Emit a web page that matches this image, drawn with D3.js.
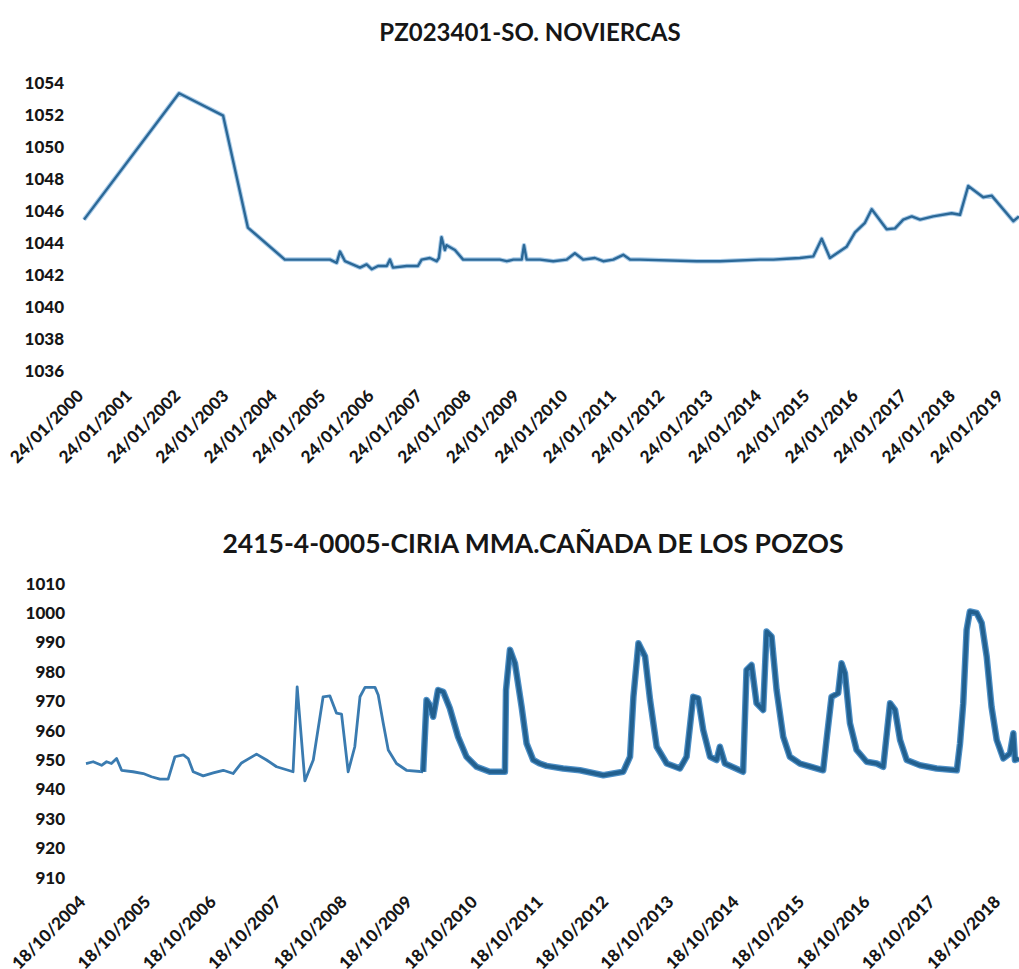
<!DOCTYPE html>
<html>
<head>
<meta charset="utf-8">
<script src="https://cdn.jsdelivr.net/npm/d3@7"></script>
<style>
  body { margin: 0; background: #fff; }
  text { font-family: Lato, "Open Sans", sans-serif; fill: #161616; }
  .tick text { font-weight: 900; font-size: 17px; }
  .title { font-weight: 700; text-anchor: middle; }
</style>
</head>
<body>
<div id="chart"></div>
<script>
/* DATA */

// PZ023401-SO. NOVIERCAS
const noviercasDates = ["2000-01-24", "2002-01-10", "2002-12-08", "2003-06-13", "2004-03-18", "2004-09-24",
	"2005-02-22", "2005-04-13", "2005-05-08", "2005-06-15", "2005-10-06", "2005-11-25", "2006-01-02",
	"2006-02-19", "2006-04-26", "2006-05-20", "2006-06-12", "2006-09-23", "2006-12-17", "2007-01-14",
	"2007-03-17", "2007-05-07", "2007-05-24", "2007-06-13", "2007-07-08", "2007-07-21", "2007-09-22",
	"2007-11-23", "2008-02-07", "2008-05-18", "2008-08-27", "2008-10-17", "2008-12-05", "2009-02-07",
	"2009-02-24", "2009-03-16", "2009-06-25", "2009-10-03", "2010-01-12", "2010-03-15", "2010-05-17",
	"2010-08-13", "2010-10-15", "2010-12-29", "2011-03-15", "2011-05-05", "2011-07-19", "2012-09-19",
	"2013-03-14", "2014-01-09", "2014-04-20", "2014-07-30", "2014-11-06", "2015-02-15", "2015-04-20",
	"2015-06-21", "2015-10-24", "2015-12-27", "2016-03-11", "2016-05-01", "2016-08-22", "2016-10-24",
	"2016-12-25", "2017-02-27", "2017-05-01", "2017-08-08", "2017-12-25", "2018-02-26", "2018-04-29",
	"2018-08-20", "2018-10-23", "2019-04-05", "2019-05-17"];
const noviercasLevels = [1045.4, 1053.3, 1051.9, 1044.9, 1042.9, 1042.9,
	1042.9, 1042.7, 1043.4, 1042.8, 1042.4, 1042.6, 1042.3,
	1042.5, 1042.5, 1042.9, 1042.4, 1042.5, 1042.5, 1042.9,
	1043.0, 1042.8, 1043.0, 1044.3, 1043.5, 1043.8, 1043.5,
	1042.9, 1042.9, 1042.9, 1042.9, 1042.8, 1042.9, 1042.9,
	1043.8, 1042.9, 1042.9, 1042.8, 1042.9, 1043.3, 1042.9,
	1043.0, 1042.8, 1042.9, 1043.2, 1042.9, 1042.9, 1042.8,
	1042.8, 1042.9, 1042.9, 1042.95, 1043.0, 1043.1, 1044.2,
	1043.0, 1043.7, 1044.6, 1045.2, 1046.05, 1044.8, 1044.85,
	1045.4, 1045.6, 1045.4, 1045.6, 1045.8, 1045.7, 1047.5,
	1046.8, 1046.9, 1045.3, 1045.6];
const noviercasTicks = ["24/01/2000", "24/01/2001", "24/01/2002", "24/01/2003", "24/01/2004", "24/01/2005",
	"24/01/2006", "24/01/2007", "24/01/2008", "24/01/2009", "24/01/2010", "24/01/2011", "24/01/2012",
	"24/01/2013", "24/01/2014", "24/01/2015", "24/01/2016", "24/01/2017", "24/01/2018", "24/01/2019"];
const noviercasYTicks = [1036, 1038, 1040, 1042, 1044, 1046, 1048, 1050, 1052, 1054];

// 2415-4-0005-CIRIA MMA.CAÑADA DE LOS POZOS  (manual readings, then continuous record)
const ciriaManualDates = ["2004-10-18", "2004-11-27", "2005-01-13", "2005-02-10", "2005-03-09", "2005-04-07",
	"2005-05-05", "2005-07-08", "2005-09-03", "2005-10-19", "2005-12-05", "2006-01-20", "2006-02-27",
	"2006-04-15", "2006-05-12", "2006-06-09", "2006-08-04", "2006-09-29", "2006-11-24", "2007-01-18",
	"2007-03-06", "2007-05-29", "2007-07-24", "2007-09-18", "2007-12-19", "2008-01-11", "2008-02-23",
	"2008-04-10", "2008-06-04", "2008-07-12", "2008-08-18", "2008-09-15", "2008-10-22", "2008-11-28",
	"2008-12-27", "2009-01-24", "2009-03-21", "2009-04-08", "2009-05-06", "2009-06-03", "2009-07-19",
	"2009-09-13", "2009-12-15"];
const ciriaManualLevels = [948.6, 949.2, 948.0, 949.2, 948.6, 950.3,
	946.3, 945.8, 945.2, 944.1, 943.3, 943.3, 950.9,
	951.5, 950.3, 945.8, 944.4, 945.4, 946.3, 945.2,
	948.8, 951.8, 949.8, 947.5, 945.8, 974.7, 942.7,
	949.8, 971.3, 971.6, 965.7, 965.4, 945.8, 954.3,
	971.3, 974.5, 974.5, 971.9, 962.3, 953.2, 948.6,
	946.3, 945.8];
const ciriaRecordDates = ["2009-12-15", "2010-01-03", "2010-01-21", "2010-02-09", "2010-03-08", "2010-04-06",
	"2010-05-13", "2010-06-28", "2010-08-14", "2010-10-09", "2010-12-22", "2011-03-17", "2011-03-23",
	"2011-04-14", "2011-05-12", "2011-06-18", "2011-07-16", "2011-08-22", "2011-09-28", "2011-11-04",
	"2012-02-05", "2012-05-09", "2012-09-17", "2013-01-06", "2013-02-13", "2013-03-04", "2013-04-01",
	"2013-05-08", "2013-06-05", "2013-07-12", "2013-09-06", "2013-11-19", "2013-12-26", "2014-02-01",
	"2014-03-01", "2014-03-29", "2014-05-06", "2014-06-12", "2014-06-30", "2014-07-28", "2014-11-07",
	"2014-11-26", "2014-12-24", "2015-01-21", "2015-02-27", "2015-03-18", "2015-04-15", "2015-05-13",
	"2015-06-19", "2015-07-26", "2015-09-20", "2016-01-28", "2016-02-16", "2016-03-15", "2016-04-21",
	"2016-05-10", "2016-05-29", "2016-06-26", "2016-08-02", "2016-09-27", "2016-11-22", "2016-12-29",
	"2017-02-05", "2017-03-05", "2017-04-02", "2017-05-09", "2017-07-22", "2017-10-23", "2018-02-13",
	"2018-03-03", "2018-03-21", "2018-04-09", "2018-04-27", "2018-06-04", "2018-07-02", "2018-07-30",
	"2018-08-26", "2018-09-24", "2018-10-31", "2018-12-07", "2018-12-26", "2019-01-04", "2019-01-26"];
const ciriaRecordLevels = [945.8, 970.2, 968.5, 964.5, 973.6, 973.0,
	967.4, 957.7, 950.9, 947.5, 945.8, 945.8, 973.6,
	987.3, 982.7, 968.0, 955.4, 949.8, 948.6, 947.8,
	946.9, 946.3, 944.6, 945.8, 950.9, 971.3, 989.5,
	985.0, 970.2, 954.3, 948.6, 946.9, 950.9, 971.3,
	970.8, 960.0, 950.9, 949.8, 954.3, 948.6, 945.8,
	980.4, 982.1, 969.1, 966.8, 993.5, 991.8, 973.6,
	957.7, 950.9, 948.6, 946.3, 956.6, 971.3, 972.5,
	982.7, 979.3, 962.3, 953.2, 949.2, 948.6, 947.5,
	969.1, 966.8, 956.6, 949.8, 948.0, 946.9, 946.3,
	955.4, 969.1, 994.1, 1000.3, 999.8, 996.4, 985.0,
	967.9, 956.6, 950.3, 952.0, 958.9, 949.8, 950.3];
const ciriaTicks = ["18/10/2004", "18/10/2005", "18/10/2006", "18/10/2007", "18/10/2008", "18/10/2009",
	"18/10/2010", "18/10/2011", "18/10/2012", "18/10/2013", "18/10/2014", "18/10/2015", "18/10/2016",
	"18/10/2017", "18/10/2018"];
const ciriaYTicks = [910, 920, 930, 940, 950, 960, 970, 980, 990, 1000, 1010];

/* SET UP */

const w = 1019;
const h = 969;
const parseIso = d3.timeParse("%Y-%m-%d");
const parseTick = d3.timeParse("%d/%m/%Y");
const pairs = (dates, vals) => dates.map((d, i) => ({ date: parseIso(d), v: vals[i] }));

const svg = d3
	.select("#chart")
	.append("svg")
	.attr("width", w)
	.attr("height", h)
	.style("background", "#fff");

// FUNCTION to draw one panel (title, axes), returns scales
function makePanel(o) {
	const x = d3
		.scaleTime()
		.domain([parseTick(o.ticks[0]), parseTick(o.ticks[o.ticks.length - 1])])
		.range([o.x0, o.x1]);
	const y = d3.scaleLinear().domain(d3.extent(o.yTicks)).range([o.yBottom, o.yTop]);

	svg
		.append("text")
		.attr("class", "title")
		.attr("x", o.titleX)
		.attr("y", o.titleY)
		.style("font-size", o.titleSize + "px")
		.text(o.title);

	const yAxis = svg
		.append("g")
		.attr("transform", `translate(${o.yLabelX},0)`)
		.call(d3.axisLeft(y).tickValues(o.yTicks).tickFormat(d3.format("d")).tickSize(0).tickPadding(0));
	yAxis.select(".domain").remove();
	yAxis.selectAll("text").attr("dy", "0.36em");

	const xAxis = svg
		.append("g")
		.attr("transform", `translate(0,${o.xLabelY})`)
		.call(
			d3
				.axisBottom(x)
				.tickValues(o.ticks.map(parseTick))
				.tickFormat(d3.timeFormat("%d/%m/%Y"))
				.tickSize(0)
		);
	xAxis.select(".domain").remove();
	xAxis
		.selectAll("text")
		.attr("y", 0)
		.attr("dy", 0)
		.attr("text-anchor", "end")
		.attr("transform", "rotate(-45)");

	return { x, y };
}

/* TOP PANEL */

const topPanel = makePanel({
	title: "PZ023401-SO. NOVIERCAS",
	titleX: 530, titleY: 41, titleSize: 24,
	ticks: noviercasTicks, yTicks: noviercasYTicks,
	x0: 84, x1: 1004, yTop: 82, yBottom: 370,
	yLabelX: 64, xLabelY: 397
});

const lineTop = d3.line().x((d) => topPanel.x(d.date)).y((d) => topPanel.y(d.v));
svg
	.append("path")
	.datum(pairs(noviercasDates, noviercasLevels))
	.attr("d", lineTop)
	.attr("fill", "none")
	.attr("stroke", "#a9cbe8")
	.attr("stroke-width", 4.5)
	.attr("stroke-linejoin", "round");
svg
	.append("path")
	.datum(pairs(noviercasDates, noviercasLevels))
	.attr("d", lineTop)
	.attr("fill", "none")
	.attr("stroke", "#2b6897")
	.attr("stroke-width", 2.4)
	.attr("stroke-linejoin", "round");

/* BOTTOM PANEL */

const botPanel = makePanel({
	title: "2415-4-0005-CIRIA MMA.CAÑADA DE LOS POZOS",
	titleX: 533, titleY: 553, titleSize: 26.5,
	ticks: ciriaTicks, yTicks: ciriaYTicks,
	x0: 86, x1: 1001, yTop: 583, yBottom: 877,
	yLabelX: 65, xLabelY: 903
});

const lineBot = d3.line().x((d) => botPanel.x(d.date)).y((d) => botPanel.y(d.v));

svg
	.append("path")
	.datum(pairs(ciriaManualDates, ciriaManualLevels))
	.attr("d", lineBot)
	.attr("fill", "none")
	.attr("stroke", "#3a7bb0")
	.attr("stroke-width", 2.8)
	.attr("stroke-linejoin", "round");

svg
	.append("path")
	.datum(pairs(ciriaRecordDates, ciriaRecordLevels))
	.attr("d", lineBot)
	.attr("fill", "none")
	.attr("stroke", "#4d8fc6")
	.attr("stroke-width", 6.5)
	.attr("stroke-linejoin", "round");
svg
	.append("path")
	.datum(pairs(ciriaRecordDates, ciriaRecordLevels))
	.attr("d", lineBot)
	.attr("fill", "none")
	.attr("stroke", "#22608f")
	.attr("stroke-width", 4)
	.attr("stroke-linejoin", "round");
</script>
</body>
</html>
